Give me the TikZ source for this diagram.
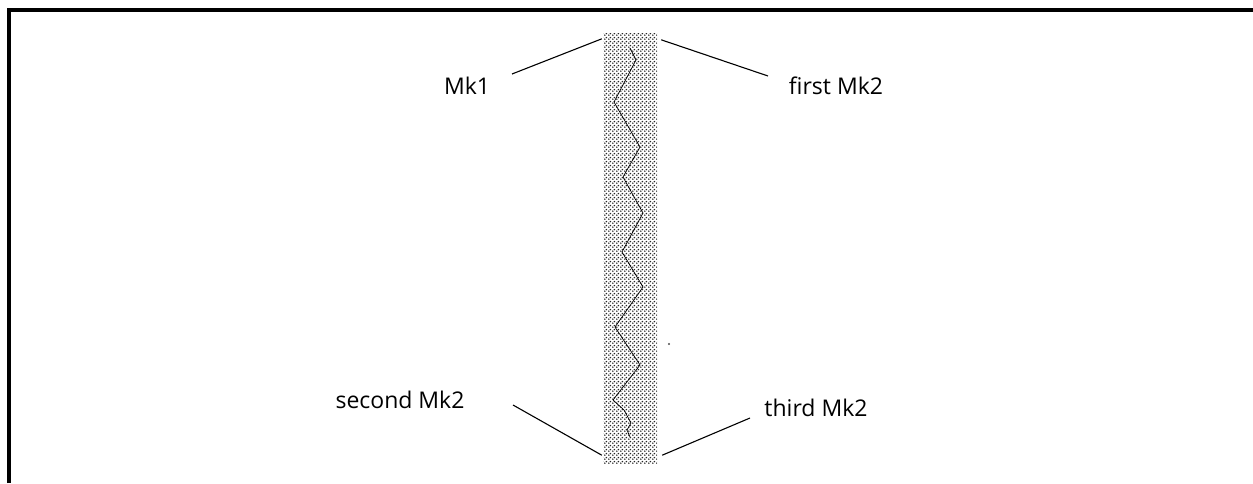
\documentclass[tikz,border=0pt]{standalone}
\usepackage{fontspec}
\setmainfont{Open Sans}
\usetikzlibrary{patterns,calc}

% Coarse staggered stipple for the strip
\pgfdeclarepatternformonly{stipple}{\pgfqpoint{0pt}{0pt}}{\pgfqpoint{4pt}{4pt}}{\pgfqpoint{4pt}{4pt}}{
    \pgfpathcircle{\pgfqpoint{1pt}{1pt}}{1.05pt}
    \pgfpathcircle{\pgfqpoint{3pt}{3pt}}{1.05pt}
    \pgfusepath{fill}
}

\tikzset{
    marklabel/.style={font=\fontsize{23}{27}\selectfont, inner sep=0pt},
    markline/.style={black, line width=1.1pt},
}

\begin{document}
\begin{tikzpicture}[x=1pt, y=-1pt]
    \useasboundingbox (0,0) rectangle (1253,483);

    % Open frame (left and top sides only)
    \draw[black, line width=4pt] (9,483) -- (9,10) -- (1253,10);

    % Stippled strip
    \node[draw=none, pattern=stipple, pattern color=black!85,
          minimum width=54pt, minimum height=430pt, inner sep=0pt]
          (strip) at (630,248) {};

    % Zigzag trace inside the strip
    \draw[black, line width=0.7pt]
        (630,48) -- (636,60) -- (614,102) -- (640,147) -- (623,177)
        -- (643,213) -- (622,252) -- (643,287) -- (615,327)
        -- (640,365) -- (613,400) -- (624,410) -- (631,423) -- (627,430) -- (630,437);

    % Stray dot
    \fill[black!70] (669,344) circle (1.1pt);

    % Labels
    \node[marklabel] (mkone)   at (467,86)  {Mk1};
    \node[marklabel] (mktwoa)  at (836,86)  {first Mk2};
    \node[marklabel] (mktwob)  at (400,400) {second Mk2};
    \node[marklabel] (mktwoc)  at (816,408) {third Mk2};

    % Free ends of the leader lines
    \coordinate (mkoneend)  at (512,74);
    \coordinate (mktwoaend) at (768,76);
    \coordinate (mktwobend) at (513,405);
    \coordinate (mktwocend) at (750,418);

    % Leader lines to the strip corners
    \draw[markline] (mkoneend)  -- ($(strip.north west)+(-1,6)$);
    \draw[markline] (mktwoaend) -- ($(strip.north east)+(4,7)$);
    \draw[markline] (mktwobend) -- ($(strip.south west)+(-1,-8)$);
    \draw[markline] (mktwocend) -- ($(strip.south east)+(5,-8)$);
\end{tikzpicture}
\end{document}
